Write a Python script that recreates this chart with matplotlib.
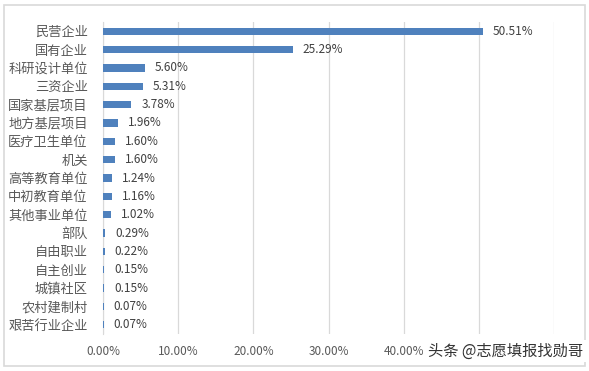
import matplotlib
matplotlib.use("Agg")
import matplotlib.pyplot as plt
from matplotlib.patches import Rectangle
from matplotlib.ticker import FuncFormatter

plt.rcParams['font.family'] = ['Noto Sans CJK SC', 'DejaVu Sans']

categories = ["民营企业", "国有企业", "科研设计单位", "三资企业", "国家基层项目", "地方基层项目",
              "医疗卫生单位", "机关", "高等教育单位", "中初教育单位", "其他事业单位", "部队",
              "自由职业", "自主创业", "城镇社区", "农村建制村", "艰苦行业企业"]
values = [50.51, 25.29, 5.60, 5.31, 3.78, 1.96, 1.60, 1.60, 1.24, 1.16, 1.02, 0.29,
          0.22, 0.15, 0.15, 0.07, 0.07]
xticks = [0, 10, 20, 30, 40, 50, 60]
# 50% and 60% tick labels are hidden under the watermark in the reference
hidden_ticks = [50, 60]

W, H = 589, 371
fig = plt.figure(figsize=(W / 100, H / 100), dpi=100)
fig.patch.set_facecolor('white')
fig.patches.append(Rectangle((4 / W, 5 / H), 581 / W, 361 / H, transform=fig.transFigure,
                             fill=False, edgecolor='#d9d9d9', linewidth=1.2))

ax = fig.add_axes([103 / W, 1 - 334 / H, 451 / W, 312 / H])
y = list(range(len(categories)))
ax.barh(y, values, height=0.4, color='#4f81bd', zorder=3)
ax.set_ylim(len(categories) - 0.5, -0.5)
ax.set_xlim(0, 60)
ax.set_xticks(xticks)
ax.xaxis.set_major_formatter(FuncFormatter(
    lambda v, p: "" if round(v) in hidden_ticks else f"{v:.2f}%"))
ax.set_yticks(y)
ax.set_yticklabels(categories)
ax.tick_params(axis='y', length=0, pad=11, labelsize=9.5, labelcolor='#595959')
ax.tick_params(axis='x', length=0, pad=8, labelsize=8.5, labelcolor='#595959')
ax.grid(axis='x', color='#d9d9d9', linewidth=0.9, zorder=0)
for s in ['top', 'right', 'bottom']:
    ax.spines[s].set_visible(False)
ax.spines['left'].set_color('#d9d9d9')

for yi, v in zip(y, values):
    ax.text(v + 1.3, yi, f"{v:.2f}%", va='center', ha='left', fontsize=8.5, color='#404040')

fig.text(506 / W, 1 - 351 / H, "头条 @志愿填报找勋哥", ha='center', va='center', fontsize=11,
         color='#333333',
         bbox=dict(facecolor='white', edgecolor='none', pad=2))

fig.savefig("out.png", dpi=100)
